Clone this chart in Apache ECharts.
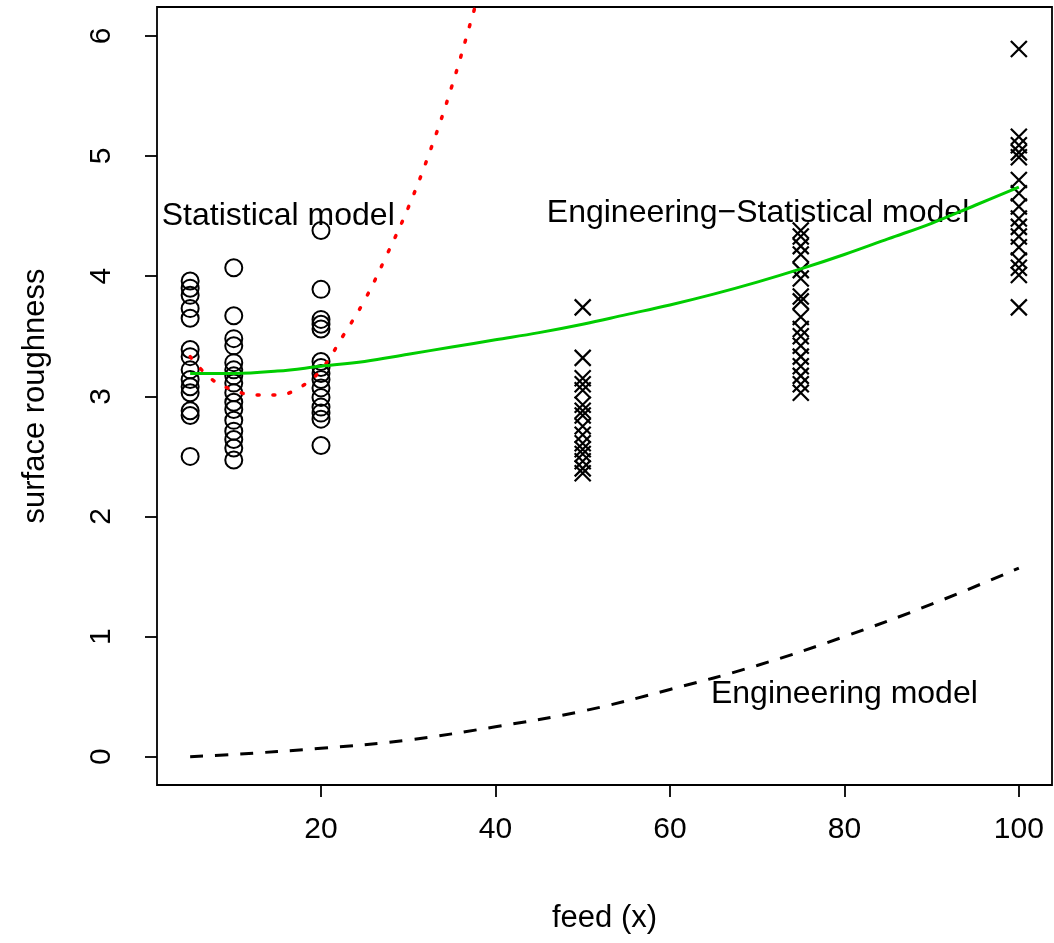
<!DOCTYPE html>
<html>
<head>
<meta charset="utf-8">
<script src="https://cdn.jsdelivr.net/npm/echarts@6/dist/echarts.min.js"></script>
<style>
  html, body { margin: 0; padding: 0; background: #fff; }
  #chart { width: 1054px; height: 943px; }
</style>
</head>
<body>
<div id="chart"></div>
<script>
// measured points, grouped by feed
const roughAt5 = [3.96, 3.90, 3.84, 3.73, 3.65, 3.39, 3.33, 3.22, 3.14, 3.08, 3.03, 2.88, 2.84, 2.50]
const roughAt10 = [4.07, 3.67, 3.48, 3.42, 3.28, 3.22, 3.17, 3.11, 3.03, 2.95, 2.89, 2.80, 2.71, 2.64, 2.57, 2.47]
const roughAt20 = [4.38, 3.89, 3.64, 3.60, 3.56, 3.29, 3.24, 3.19, 3.14, 3.07, 2.99, 2.91, 2.86, 2.81, 2.59]
const roughAt50 = [3.74, 3.32, 3.15, 3.10, 3.05, 2.93, 2.88, 2.84, 2.75, 2.68, 2.61, 2.56, 2.52, 2.46, 2.40, 2.36]
const roughAt75 = [4.38, 4.33, 4.25, 4.18, 4.05, 3.98, 3.83, 3.79, 3.66, 3.56, 3.50, 3.42, 3.33, 3.25, 3.17, 3.10, 3.03]
const roughAt100 = [5.89, 5.16, 5.09, 5.03, 4.99, 4.80, 4.69, 4.58, 4.48, 4.41, 4.33, 4.24, 4.13, 4.07, 4.01, 3.74]

// model curves
const statFeed = [5, 7.5, 10, 12.5, 15, 17.5, 20, 22.5, 25, 27.5, 30, 32.5, 35, 37.5, 38]
const statRough = [3.33, 3.14, 3.05, 3.01, 3.01, 3.07, 3.22, 3.50, 3.80, 4.17, 4.57, 5.04, 5.58, 6.20, 6.33]

const engStatFeed = [5, 10, 15, 20, 25, 30, 35, 40, 45, 50, 55, 60, 65, 70, 75, 80, 85, 90, 95, 100]
const engStatRough = [3.19, 3.19, 3.21, 3.25, 3.29, 3.35, 3.41, 3.47, 3.53, 3.60, 3.68, 3.76, 3.85, 3.95, 4.06, 4.18, 4.31, 4.44, 4.59, 4.74]

const engFeed = [5, 10, 20, 30, 40, 50, 60, 70, 80, 90, 100]
const engRough = [0.0, 0.02, 0.07, 0.14, 0.25, 0.38, 0.56, 0.76, 1.0, 1.27, 1.57]

const xTicks = [20, 40, 60, 80, 100]
const yTicks = [0, 1, 2, 3, 4, 5, 6]

// text labels: [feed, roughness, text]
const modelLabels = [
  [15.1, 4.50, 'Statistical model'],
  [70.1, 4.52, 'Engineering\u2212Statistical model'],
  [80.0, 0.52, 'Engineering model']
]

const font = 'Liberation Sans, Arial, sans-serif'
const pairs = (x, ys) => ys.map(y => [x, y])
const circlePts = [].concat(pairs(5, roughAt5), pairs(10, roughAt10), pairs(20, roughAt20))
const crossPts = [].concat(pairs(50, roughAt50), pairs(75, roughAt75), pairs(100, roughAt100))
const zip = (xs, ys) => xs.map((x, i) => [x, ys[i]])

const chart = echarts.init(document.getElementById('chart'))
chart.setOption({
  animation: false,
  backgroundColor: '#fff',
  grid: {
    left: 157, right: 2, top: 7, bottom: 158,
    show: true, borderColor: '#000', borderWidth: 1.8, backgroundColor: 'transparent'
  },
  xAxis: {
    type: 'value',
    min: 1.2,
    max: 103.8,
    name: 'feed (x)',
    nameLocation: 'middle',
    nameGap: 118,
    nameTextStyle: { color: '#000', fontSize: 31, fontFamily: font },
    axisLine: { show: false, onZero: false },
    axisTick: { show: true, length: 12, customValues: xTicks, lineStyle: { color: '#000', width: 1.8 } },
    axisLabel: { customValues: xTicks, margin: 30, color: '#000', fontSize: 30, fontFamily: font },
    splitLine: { show: false }
  },
  yAxis: {
    type: 'value',
    min: -0.235,
    max: 6.24,
    name: 'surface roughness',
    nameLocation: 'middle',
    nameGap: 106,
    nameTextStyle: { color: '#000', fontSize: 31, fontFamily: font },
    axisLine: { show: false, onZero: false },
    axisTick: { show: true, length: 12, customValues: yTicks, lineStyle: { color: '#000', width: 1.8 } },
    axisLabel: { customValues: yTicks, rotate: 90, margin: 40, color: '#000', fontSize: 30, fontFamily: font },
    splitLine: { show: false }
  },
  series: [
    {
      name: 'low feed',
      type: 'scatter',
      symbol: 'circle',
      symbolSize: 17,
      itemStyle: { color: 'rgba(0,0,0,0)', borderColor: '#000', borderWidth: 2, opacity: 1 },
      data: circlePts
    },
    {
      name: 'high feed',
      type: 'scatter',
      symbol: 'path://M0,0L10,10M10,0L0,10',
      symbolSize: 16,
      itemStyle: { color: 'rgba(0,0,0,0)', borderColor: '#000', borderWidth: 2.2, opacity: 1 },
      data: crossPts
    },
    {
      name: 'Statistical model',
      type: 'line',
      smooth: 0.4,
      showSymbol: false,
      lineStyle: { color: '#ff0000', width: 3.5, type: [2, 14], cap: 'round' },
      data: zip(statFeed, statRough)
    },
    {
      name: 'Engineering-Statistical model',
      type: 'line',
      smooth: 0.4,
      showSymbol: false,
      lineStyle: { color: '#00cd00', width: 3 },
      data: zip(engStatFeed, engStatRough)
    },
    {
      name: 'Engineering model',
      type: 'line',
      smooth: 0.4,
      showSymbol: false,
      lineStyle: { color: '#000', width: 3, type: [13, 12] },
      data: zip(engFeed, engRough)
    },
    {
      name: 'labels',
      type: 'scatter',
      symbolSize: 0,
      silent: true,
      itemStyle: { opacity: 1 },
      label: {
        show: true,
        position: [0, 0],
        align: 'center',
        verticalAlign: 'middle',
        formatter: p => p.data[2],
        color: '#000',
        fontSize: 32,
        fontFamily: font
      },
      data: modelLabels
    }
  ]
})
</script>
</body>
</html>
